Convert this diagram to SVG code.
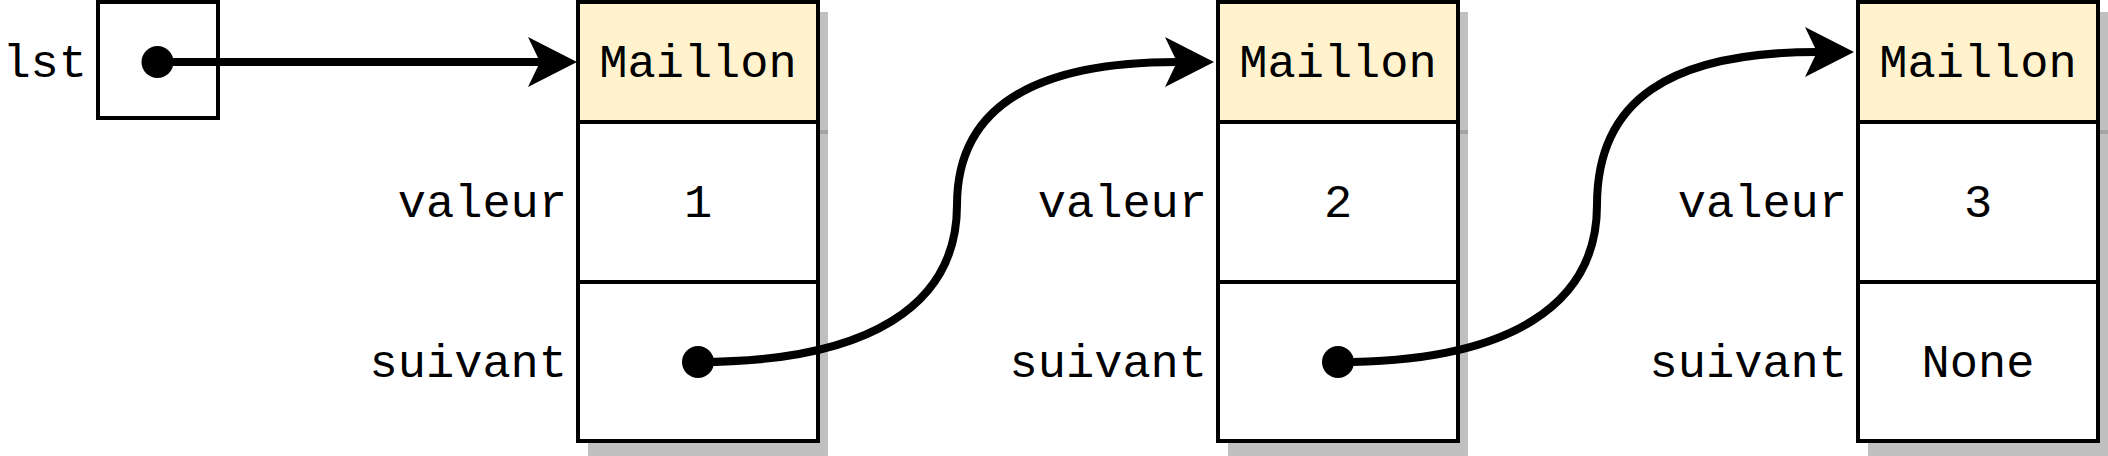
<svg xmlns="http://www.w3.org/2000/svg" width="2108" height="456" viewBox="0 0 2108 456">
<style>
.box{fill:#ffffff;stroke:#000000;stroke-width:4}
.hdr{fill:#fff2cc;stroke:#000000;stroke-width:4}
.shadow{fill:#c0c0c0}
.shadow2{fill:#a4a4a4}
.t{font-family:"Liberation Mono","Courier New",monospace;font-size:47px;fill:#000000}
.r{text-anchor:end}
.c{text-anchor:middle}
.edge{fill:none;stroke:#000000;stroke-width:8;marker-start:url(#dot);marker-end:url(#arrow)}
</style>
<defs>
<marker id="dot" markerUnits="userSpaceOnUse" markerWidth="34" markerHeight="34" refX="17" refY="17" viewBox="0 0 34 34"><circle cx="17" cy="17" r="16" fill="#000"/></marker>
<marker id="arrow" markerUnits="userSpaceOnUse" markerWidth="50" markerHeight="52" refX="12" refY="26" viewBox="0 0 50 52" orient="auto"><path d="M0,1 L49,26 L0,51 L12,26 Z" fill="#000"/></marker>
</defs>
<rect width="2108" height="456" fill="#ffffff"/>

<g id="lst">
<text class="t r" x="87" y="77">lst</text>
<rect class="box" x="98" y="2" width="120" height="116"/>
</g>

<g id="maillon1">
<rect class="shadow" x="588" y="12" width="240" height="446"/>
<rect class="shadow2" x="588" y="130" width="240" height="4"/>
<rect class="hdr" x="578" y="2" width="240" height="120"/>
<rect class="box" x="578" y="122" width="240" height="160"/>
<rect class="box" x="578" y="282" width="240" height="159"/>
<text class="t c" x="698" y="77">Maillon</text>
<text class="t c" x="698" y="217">1</text>
<text class="t r" x="567" y="217">valeur</text>
<text class="t r" x="567" y="377">suivant</text>
</g>

<g id="maillon2">
<rect class="shadow" x="1228" y="12" width="240" height="446"/>
<rect class="shadow2" x="1228" y="130" width="240" height="4"/>
<rect class="hdr" x="1218" y="2" width="240" height="120"/>
<rect class="box" x="1218" y="122" width="240" height="160"/>
<rect class="box" x="1218" y="282" width="240" height="159"/>
<text class="t c" x="1338" y="77">Maillon</text>
<text class="t c" x="1338" y="217">2</text>
<text class="t r" x="1207" y="217">valeur</text>
<text class="t r" x="1207" y="377">suivant</text>
</g>

<g id="maillon3">
<rect class="shadow" x="1868" y="12" width="240" height="446"/>
<rect class="shadow2" x="1868" y="130" width="240" height="4"/>
<rect class="hdr" x="1858" y="2" width="240" height="120"/>
<rect class="box" x="1858" y="122" width="240" height="160"/>
<rect class="box" x="1858" y="282" width="240" height="159"/>
<text class="t c" x="1978" y="77">Maillon</text>
<text class="t c" x="1978" y="217">3</text>
<text class="t c" x="1978" y="377">None</text>
<text class="t r" x="1847" y="217">valeur</text>
<text class="t r" x="1847" y="377">suivant</text>
</g>

<g id="connectors">
<path class="edge" d="M157.5 62 L540 62"/>
<path class="edge" d="M698 362 C870 362 957 305 957 205 C957 110 1030 62 1177 62"/>
<path class="edge" d="M1338 362 C1510 362 1597 305 1597 205 C1597 100 1670 52 1817 52"/>
</g>
</svg>
